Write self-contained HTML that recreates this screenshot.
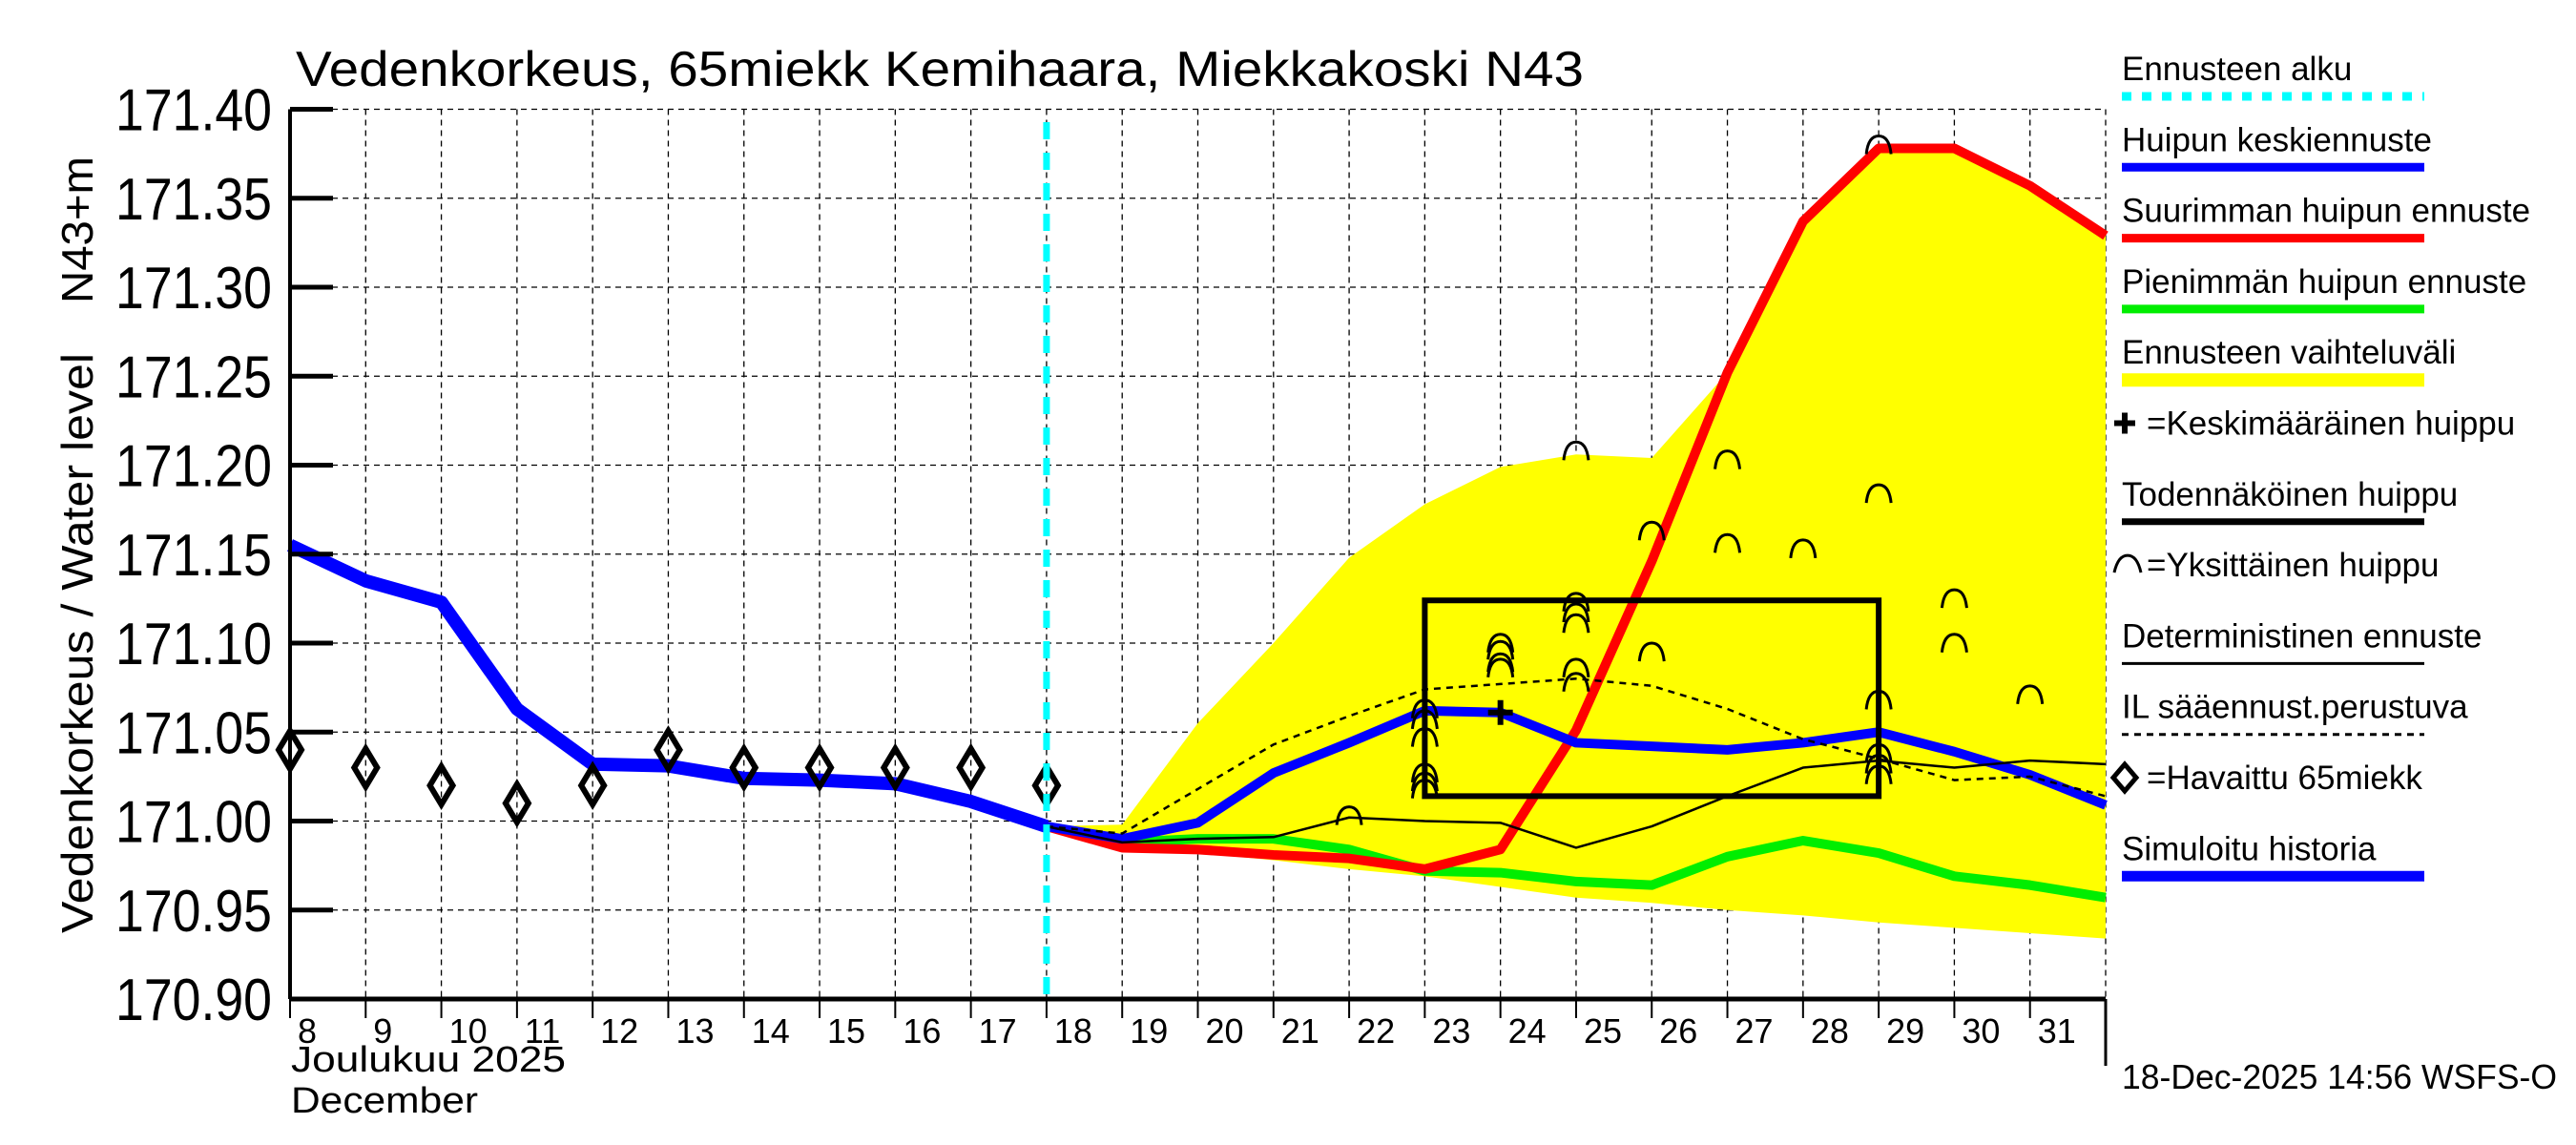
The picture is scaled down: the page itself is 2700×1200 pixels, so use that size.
<!DOCTYPE html>
<html><head><meta charset="utf-8"><style>
html,body{margin:0;padding:0;background:#fff}
svg{display:block;font-family:"Liberation Sans",sans-serif}
</style></head><body>
<svg id="chart" width="2700" height="1200" viewBox="0 0 2700 1200" xmlns="http://www.w3.org/2000/svg">
<g id="grid"></g>
<g id="marks"></g>
<g id="axes"></g>
<text x="310" y="90" font-size="52" textLength="1350" lengthAdjust="spacingAndGlyphs">Vedenkorkeus, 65miekk Kemihaara, Miekkakoski N43</text>
<text transform="translate(97,978) rotate(-90)" font-size="46" textLength="608" lengthAdjust="spacingAndGlyphs">Vedenkorkeus / Water level</text>
<text transform="translate(97,318) rotate(-90)" font-size="46" textLength="154" lengthAdjust="spacingAndGlyphs">N43+m</text>
<text x="305" y="1123" font-size="38" textLength="288" lengthAdjust="spacingAndGlyphs">Joulukuu  2025</text>
<text x="305" y="1166" font-size="38" textLength="196" lengthAdjust="spacingAndGlyphs">December</text>
<text x="2224" y="1141" font-size="36" textLength="456" lengthAdjust="spacingAndGlyphs">18-Dec-2025 14:56 WSFS-O</text>
<g id="legend"></g>
</svg>
<script>
const NS="http://www.w3.org/2000/svg";
const days=[8,9,10,11,12,13,14,15,16,17,18,19,20,21,22,23,24,25,26,27,28,29,30,31,32];
const yTicks=[170.90,170.95,171.00,171.05,171.10,171.15,171.20,171.25,171.30,171.35,171.40];
const dayLabels=[8,9,10,11,12,13,14,15,16,17,18,19,20,21,22,23,24,25,26,27,28,29,30,31];
const histDays=[8,9,10,11,12,13,14,15,16,17,18];
const histSim=[171.155,171.135,171.123,171.063,171.032,171.031,171.024,171.023,171.021,171.011,170.997];
const observed=[171.04,171.03,171.02,171.01,171.02,171.04,171.03,171.03,171.03,171.03,171.02];
const fcDays=[18,19,20,21,22,23,24,25,26,27,28,29,30,31,32];
const fcMean=[170.997,170.990,170.999,171.027,171.044,171.062,171.061,171.044,171.042,171.040,171.044,171.050,171.039,171.026,171.009];
const fcMax=[170.997,170.985,170.984,170.981,170.979,170.973,170.984,171.051,171.146,171.252,171.337,171.378,171.378,171.357,171.329];
const fcMin=[170.997,170.988,170.990,170.990,170.984,170.972,170.971,170.966,170.964,170.980,170.989,170.982,170.969,170.964,170.957];
const bandUpper=[170.997,170.998,171.055,171.100,171.148,171.178,171.199,171.206,171.204,171.252,171.337,171.378,171.378,171.357,171.329];
const bandLower=[170.997,170.985,170.982,170.978,170.973,170.969,170.963,170.957,170.954,170.950,170.947,170.943,170.940,170.937,170.934];
const determ=[170.997,170.988,170.990,170.991,171.002,171.000,170.999,170.985,170.997,171.014,171.030,171.034,171.030,171.034,171.032];
const ilFc=[170.997,170.993,171.018,171.043,171.059,171.074,171.077,171.080,171.076,171.063,171.046,171.035,171.023,171.025,171.014];
const peakDays=[22,23,23,23,23,23,23,24,24,24,24,25,25,25,25,25,25,26,26,27,27,28,29,29,29,29,29,29,30,30,31];
const peakVals=[171.001,171.061,171.055,171.045,171.025,171.020,171.016,171.098,171.094,171.087,171.084,171.121,171.115,171.109,171.084,171.076,171.206,171.161,171.093,171.201,171.154,171.151,171.378,171.182,171.066,171.036,171.030,171.024,171.123,171.098,171.069];
const boxDays=[23,29];
const boxVals=[171.014,171.124];
const meanPeakDay=24, meanPeakVal=171.061;
const forecastStart=18;

const X0=304,X1=2207,Y0=1047,Y1=114.5;
const x=d=>X0+(d-8)*(X1-X0)/24;
const y=v=>Y0-(v-170.90)*(Y0-Y1)/0.5;
function mk(tag,attrs,parent){const e=document.createElementNS(NS,tag);for(const k in attrs)e.setAttribute(k,attrs[k]);parent.appendChild(e);return e;}
const grid=document.getElementById('grid'),marks=document.getElementById('marks'),axes=document.getElementById('axes'),legend=document.getElementById('legend');

days.forEach(d=>{if(d===8)return;const l=mk('line',{x1:x(d),x2:x(d),y1:Y1,y2:Y0,stroke:'#000','stroke-width':1.3,'stroke-dasharray':'6,5'},grid);

});
yTicks.forEach(v=>{const l=mk('line',{x1:X0,x2:X1,y1:y(v),y2:y(v),stroke:'#000','stroke-width':1.3,'stroke-dasharray':'6,5'},grid);

});

const pts=(ds,vs)=>ds.map((d,i)=>x(d)+','+y(vs[i])).join(' ');
let p=mk('polygon',{points:pts(fcDays,bandUpper)+' '+pts(fcDays.slice().reverse(),bandLower.slice().reverse()),fill:'#ffff00'},marks);



function line(ds,vs,col,w,name,dash){const e=mk('polyline',{points:pts(ds,vs),fill:'none',stroke:col,'stroke-width':w,'stroke-linejoin':'round'},marks);if(dash)e.setAttribute('stroke-dasharray',dash);

return e;}
line(fcDays,fcMin,'#00ee00',10,'min-peak-forecast-line');
line(fcDays,fcMax,'#ff0000',10,'max-peak-forecast-line');
line(histDays,histSim,'#0000ff',14,'simulated-history-line');
line(fcDays,fcMean,'#0000ff',10,'mean-peak-forecast-line');
line(fcDays,determ,'#000',2.5,'deterministic-forecast-line');
line(fcDays,ilFc,'#000',2.5,'il-weather-forecast-line','7,6');

const bx=mk('rect',{x:x(boxDays[0]),y:y(boxVals[1]),width:x(boxDays[1])-x(boxDays[0]),height:y(boxVals[0])-y(boxVals[1]),fill:'none',stroke:'#000','stroke-width':6},marks);



peakDays.forEach((d,i)=>{const cx=x(d),cy=y(peakVals[i]);
const a=mk('path',{d:`M${cx-13},${cy+6} Q${cx-11},${cy-13} ${cx},${cy-13} Q${cx+11},${cy-13} ${cx+13},${cy+6}`,fill:'none',stroke:'#000','stroke-width':3},marks);

});

const pl=mk('path',{d:`M${x(meanPeakDay)-13},${y(meanPeakVal)} h26 M${x(meanPeakDay)},${y(meanPeakVal)-13} v26`,stroke:'#000','stroke-width':6},marks);



histDays.forEach((d,i)=>{const cx=x(d),cy=y(observed[i]);
const m=mk('polygon',{points:`${cx},${cy-20} ${cx+12},${cy} ${cx},${cy+20} ${cx-12},${cy}`,fill:'none',stroke:'#000','stroke-width':6},marks);

});

const cy1=mk('line',{x1:x(forecastStart),x2:x(forecastStart),y1:128,y2:Y0,stroke:'#00ffff','stroke-width':7,'stroke-dasharray':'18,14'},marks);



let a1=mk('line',{x1:X0,x2:X0,y1:Y1,y2:Y0,stroke:'#000','stroke-width':4},axes);


let a2=mk('line',{x1:X0,x2:X1,y1:Y0,y2:Y0,stroke:'#000','stroke-width':5},axes);


let a3=mk('line',{x1:X1,x2:X1,y1:Y0,y2:1117,stroke:'#000','stroke-width':3},axes);


yTicks.forEach(v=>{const t=mk('line',{x1:X0,x2:X0+45,y1:y(v),y2:y(v),stroke:'#000','stroke-width':5},axes);


const tx=mk('text',{x:285,y:y(v)+22,'font-size':62,'text-anchor':'end',textLength:164,lengthAdjust:'spacingAndGlyphs'},axes);tx.textContent=v.toFixed(2);

});
dayLabels.forEach(d=>{const t=mk('line',{x1:x(d),x2:x(d),y1:Y0,y2:Y0+20,stroke:'#000','stroke-width':2},axes);


const tx=mk('text',{x:x(d)+8,y:1093,'font-size':36},axes);tx.textContent=d;

});

const legLabels=['Ennusteen alku','Huipun keskiennuste','Suurimman huipun ennuste','Pienimmän huipun ennuste','Ennusteen vaihteluväli','=Keskimääräinen huippu','Todennäköinen huippu','=Yksittäinen huippu','Deterministinen ennuste','IL sääennust.perustuva','=Havaittu 65miekk','Simuloitu historia'];
const legStyles=[['#00ffff',9,'10,11'],['#0000ff',9],['#ff0000',9],['#00ee00',9],['#ffff00',14],null,['#000',7],null,['#000',3],['#000',3,'7,6'],null,['#0000ff',11]];
legLabels.forEach((lab,i)=>{const ty=84+i*74.3;const sym=(i===5||i===7||i===10);
const t=mk('text',{x:sym?2250:2224,y:ty,'font-size':35},legend);t.textContent=lab;


const s=legStyles[i];
if(s){const l=mk('line',{x1:2224,x2:2541,y1:ty+17,y2:ty+17,stroke:s[0],'stroke-width':s[1]},legend);if(s[2])l.setAttribute('stroke-dasharray',s[2]);

}
else{let e;if(i===5)e=mk('path',{d:`M2216,${ty-12} h22 M2227,${ty-23} v22`,stroke:'#000','stroke-width':6},legend);
else if(i===7)e=mk('path',{d:`M2216,${ty-4} Q2220,${ty-22} 2230,${ty-22} Q2240,${ty-22} 2244,${ty-4}`,fill:'none',stroke:'#000','stroke-width':3},legend);
else e=mk('polygon',{points:`2227,${ty-26} 2239,${ty-12} 2227,${ty+2} 2215,${ty-12}`,fill:'none',stroke:'#000','stroke-width':5},legend);

}});
</script>
</body></html>
